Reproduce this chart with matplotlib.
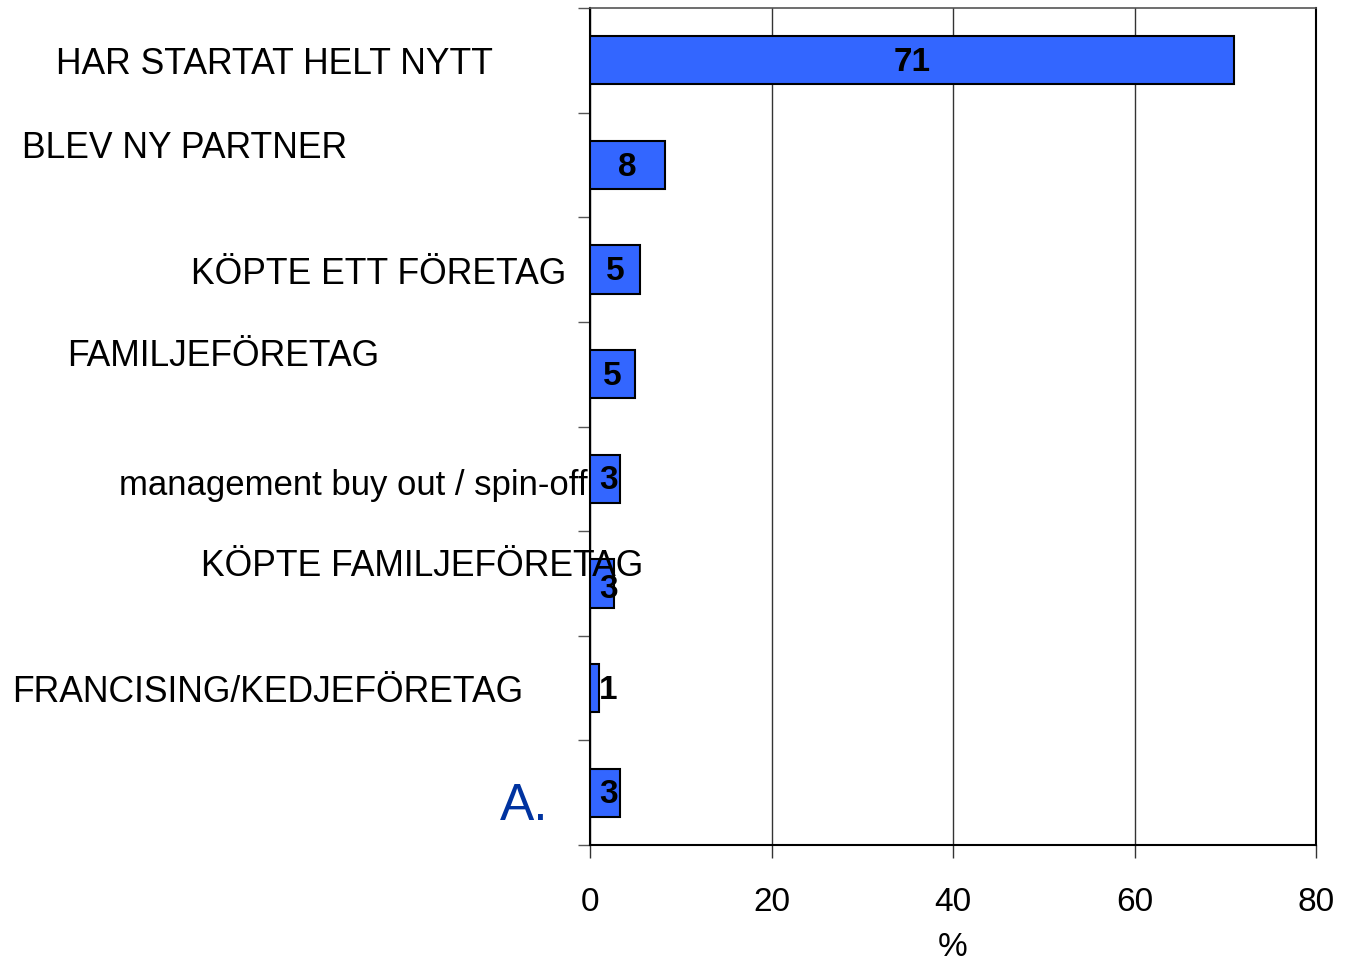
import matplotlib
matplotlib.use("Agg")
import matplotlib.pyplot as plt

categories = ["HAR STARTAT HELT NYTT", "BLEV NY PARTNER", "KÖPTE ETT FÖRETAG",
              "FAMILJEFÖRETAG", "management buy out / spin-off", "KÖPTE FAMILJEFÖRETAG",
              "FRANCISING/KEDJEFÖRETAG", "A."]
values = [71.0, 8.3, 5.5, 5.0, 3.3, 2.6, 1.0, 3.3]
value_labels = ["71", "8", "5", "5", "3", "3", "1", "3"]
x_ticks = [0, 20, 40, 60, 80]

# label layout (figure pixels: left x, centre y, font size)
label_pos = [(56, 65, 25.6), (22, 149, 25.6), (191, 274, 25.6), (67, 357, 25.6),
             (119, 485, 25.0), (201, 567, 25.6), (12, 692, 25.6), (500, 806, 37)]

W, H = 1347, 964
plt.rcParams['font.family'] = ['Liberation Sans', 'DejaVu Sans']
fig = plt.figure(figsize=(W / 100, H / 100), dpi=100)
ax = fig.add_axes([590 / W, 1 - 845 / H, (1316 - 590) / W, (845 - 8) / H])

ypos = list(range(len(categories)))
ax.barh(ypos, values, height=0.46, color="#3366FF", edgecolor="black", linewidth=1.5, zorder=3)
for y, v, lab in zip(ypos, values, value_labels):
    ax.text(max(v / 2, 2.0), y + (0.06 if y == 5 else 0.02), lab, ha="center", va="center",
            fontsize=24, fontweight="bold", zorder=4)

ax.set_xlim(0, 80)
ax.set_ylim(len(categories) - 0.5, -0.5)
ax.set_xticks(x_ticks)
ax.set_xticklabels([str(t) for t in x_ticks], fontsize=24)
ax.set_yticks([i - 0.5 for i in range(len(categories) + 1)])
ax.set_yticklabels([])
ax.tick_params(axis="y", length=9, width=1, color="#555555", direction="out")
ax.tick_params(axis="x", length=9, width=1, color="#333333", direction="out", pad=21)
ax.xaxis.grid(True, color="#333333", linewidth=1, zorder=0)
ax.set_xlabel("%", fontsize=24, labelpad=10)
for s in ["left", "bottom", "right"]:
    ax.spines[s].set_color("black")
    ax.spines[s].set_linewidth(1.5)
ax.spines["top"].set_color("#555555")
ax.spines["top"].set_linewidth(1.2)

for (px, py, fs), cat in zip(label_pos, categories):
    color = "#0033A0" if cat == "A." else "black"
    fig.text(px / W, 1 - py / H, cat, ha="left", va="center", fontsize=fs, color=color)

fig.savefig("out.png", dpi=100)
